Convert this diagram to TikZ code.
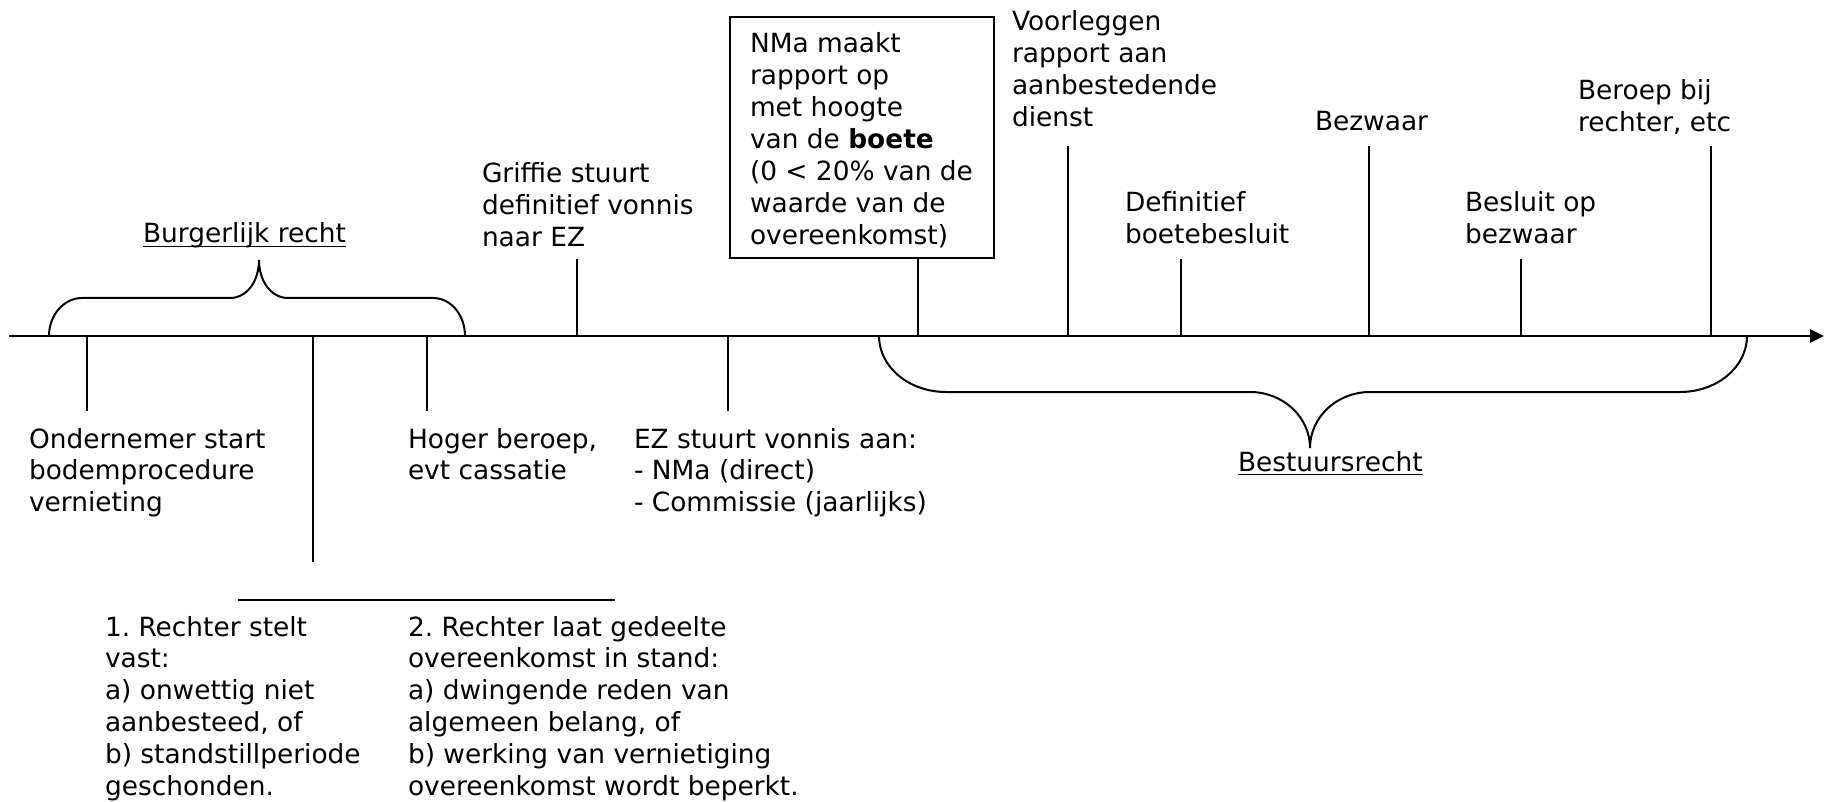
\documentclass[tikz,border=0pt]{standalone}
\usepackage{fontspec}
\setmainfont{DejaVu Sans}
\usetikzlibrary{arrows.meta}
\frenchspacing
\newcommand{\mlines}[1]{\begin{tabular}[t]{@{}l@{}}#1\end{tabular}}
\begin{document}
\begin{tikzpicture}[x=1pt,y=-1pt,
  every node/.style={inner sep=0pt,outer sep=0pt,font=\fontsize{26.4pt}{31.9pt}\selectfont},
  lbl/.style={anchor=base west},
  tick/.style={line width=2pt},
  axisline/.style={line width=2.6pt,-{Triangle[length=14pt,width=13pt]}},
  bracel/.style={line width=2pt},
  boxnode/.style={draw,line width=2pt,anchor=north west,minimum width=264pt,minimum height=241pt}]
\useasboundingbox (0,0) rectangle (1834,802);

% axis
\coordinate (axstart) at (9,336);
\coordinate (axend) at (1824,336);
\draw[axisline] (axstart) -- (axend);

% text nodes
\node[lbl] (ond) at (29,448) {\mlines{Ondernemer start\\bodemprocedure\\vernieting}};
\node[lbl] (hog) at (408,448) {\mlines{Hoger beroep,\\evt cassatie}};
\node[lbl] (ez) at (634,448) {\mlines{EZ stuurt vonnis aan:\\- NMa (direct)\\- Commissie (jaarlijks)}};
\node[lbl] (gri) at (482,183) {\mlines{Griffie stuurt\\definitief vonnis\\naar EZ}};
\node[boxnode] (box) at (730,17) {};
\node[lbl] (boxtext) at (750,53) {\mlines{NMa maakt\\rapport op\\met hoogte\\van de \textbf{boete}\\(0 < 20\% van de\\waarde van de\\overeenkomst)}};
\node[lbl] (voo) at (1012,31) {\mlines{Voorleggen\\rapport aan\\aanbestedende\\dienst}};
\node[lbl] (def) at (1125,212) {\mlines{Definitief\\boetebesluit}};
\node[lbl] (bez) at (1315,131) {Bezwaar};
\node[lbl] (bes) at (1465,212) {\mlines{Besluit op\\bezwaar}};
\node[lbl] (ber) at (1578,100) {\mlines{Beroep bij\\rechter, etc}};
\node[lbl] (r1) at (105,636) {\mlines{1. Rechter stelt\\vast:\\a) onwettig niet\\aanbesteed, of\\b) standstillperiode\\geschonden.}};
\node[lbl] (r2) at (408,636) {\mlines{2. Rechter laat gedeelte\\overeenkomst in stand:\\a) dwingende reden van\\algemeen belang, of\\b) werking van vernietiging\\overeenkomst wordt beperkt.}};
\node[lbl] (burg) at (143,243) {Burgerlijk recht};
\node[lbl] (best) at (1238,471) {Bestuursrecht};
\draw[line width=1.6pt] ([yshift=-3.5pt]burg.base west) -- ([yshift=-3.5pt]burg.base east);
\draw[line width=1.6pt] ([yshift=-3.5pt]best.base west) -- ([yshift=-3.5pt]best.base east);

% ticks (axis points and free ends)
\foreach \n/\x/\y in {a1/87/411, a2/313/562, a3/427/411, a4/577/259, a5/728/411,
  a7/1068/146, a8/1181/259, a9/1369/146, a10/1521/259, a11/1711/146}{
  \coordinate (\n) at (\x,336);
  \coordinate (\n e) at (\x,\y);
  \draw[tick] (\n) -- (\n e);
}
\coordinate (a6) at (918,336);
\draw[tick] (box.south -| a6) -- (a6);

% bottom split line
\coordinate (s1) at (238,600);
\coordinate (s2) at (427,600);
\coordinate (s3) at (615,600);
\draw[tick] (s1) -- (s2) -- (s3);

% braces
\draw[bracel] (49,336) .. controls (49,315) and (64,298) .. (82,298) -- (230,298)
  .. controls (247,298) and (259,281) .. (259,260)
  .. controls (259,281) and (271,298) .. (288,298) -- (433,298)
  .. controls (451,298) and (465,315) .. (465,336);
\draw[bracel] (879,336) .. controls (879,367) and (909,392) .. (946,392) -- (1250,392)
  .. controls (1283,392) and (1310,417) .. (1310,448)
  .. controls (1310,417) and (1337,392) .. (1370,392) -- (1680,392)
  .. controls (1717,392) and (1747,367) .. (1747,336);
\end{tikzpicture}
\end{document}
